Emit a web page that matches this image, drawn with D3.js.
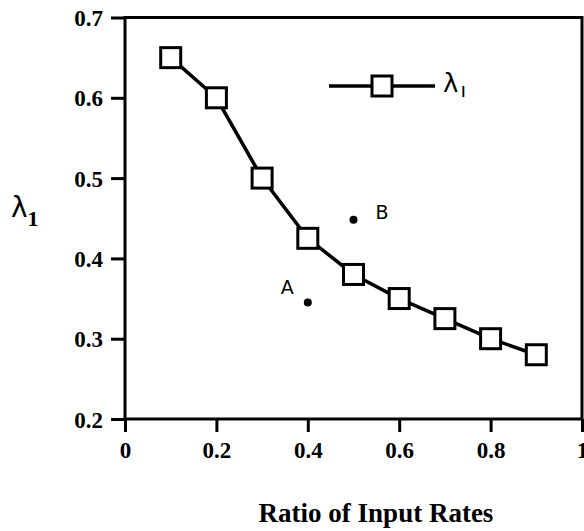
<!DOCTYPE html>
<html><head><meta charset="utf-8">
<script src="https://cdn.jsdelivr.net/npm/d3@7"></script>
<style>body{margin:0;background:#fff}svg{display:block}</style>
</head><body>
<svg id="c" width="584" height="531"></svg>
<script>
const ratios = [0.1,0.2,0.3,0.4,0.5,0.6,0.7,0.8,0.9];
const lambda1 = [0.65,0.60,0.50,0.425,0.38,0.35,0.325,0.30,0.28];
const extraLabels = ["A","B"];
const extraX = [0.40,0.50];
const extraY = [0.345,0.448];
const xTicks = [0,0.2,0.4,0.6,0.8,1];
const xTickLabels = ["0","0.2","0.4","0.6","0.8","1"];
const yTicks = [0.2,0.3,0.4,0.5,0.6,0.7];
const yTickLabels = ["0.2","0.3","0.4","0.5","0.6","0.7"];

const svg = d3.select("#c");
const x = d3.scaleLinear().domain([0,1]).range([125,582]);
const y = d3.scaleLinear().domain([0.2,0.7]).range([419,17.5]);
const font = "'Liberation Serif', 'Times New Roman', serif";

// frame
svg.append("rect").attr("x",x(0)).attr("y",y(0.7))
  .attr("width",x(1)-x(0)).attr("height",y(0.2)-y(0.7))
  .attr("fill","none").attr("stroke","#000").attr("stroke-width",3);

const xa = svg.append("g").attr("transform",`translate(0,${y(0.2)})`)
  .call(d3.axisBottom(x).tickValues(xTicks).tickSize(13).tickSizeOuter(0)
    .tickFormat((d,i)=>xTickLabels[i]));
xa.select(".domain").remove();
xa.selectAll("line").attr("stroke","#000").attr("stroke-width",3);
xa.selectAll("text").attr("font-family",font).attr("font-weight","bold")
  .attr("font-size",23).attr("fill","#000").attr("dy","1.0em");

const ya = svg.append("g").attr("transform",`translate(${x(0)},0)`)
  .call(d3.axisLeft(y).tickValues(yTicks).tickSize(14).tickSizeOuter(0)
    .tickFormat((d,i)=>yTickLabels[i]));
ya.select(".domain").remove();
ya.selectAll("line").attr("stroke","#000").attr("stroke-width",3);
ya.selectAll("text").attr("font-family",font).attr("font-weight","bold")
  .attr("font-size",23).attr("fill","#000").attr("x",-22).attr("dy","0.35em");

// line
const pts = ratios.map((r,i)=>[r,lambda1[i]]);
svg.append("path").datum(pts)
  .attr("d",d3.line().x(d=>x(d[0])).y(d=>y(d[1])))
  .attr("fill","none").attr("stroke","#000").attr("stroke-width",3.5);
const s = 20;
svg.selectAll("rect.m").data(pts).enter().append("rect").attr("class","m")
  .attr("x",d=>x(d[0])-s/2).attr("y",d=>y(d[1])-s/2)
  .attr("width",s).attr("height",s)
  .attr("fill","#fff").attr("stroke","#000").attr("stroke-width",3);

// extra points A,B
extraLabels.forEach((l,i)=>{
  svg.append("circle").attr("cx",x(extraX[i])).attr("cy",y(extraY[i])).attr("r",4).attr("fill","#000");
});
svg.append("text").attr("x",x(extraX[0])-27).attr("y",y(extraY[0])-9)
  .attr("font-family","'DejaVu Sans', sans-serif").attr("font-size",19).text(extraLabels[0]);
svg.append("text").attr("x",x(extraX[1])+22).attr("y",y(extraY[1])-1)
  .attr("font-family","'DejaVu Sans', sans-serif").attr("font-size",19).text(extraLabels[1]);

// legend
svg.append("line").attr("x1",329).attr("x2",435).attr("y1",86).attr("y2",86)
  .attr("stroke","#000").attr("stroke-width",3.5);
svg.append("rect").attr("x",382-s/2).attr("y",86-s/2).attr("width",s).attr("height",s)
  .attr("fill","#fff").attr("stroke","#000").attr("stroke-width",3);
const lt = svg.append("text").attr("x",443).attr("y",92)
  .attr("font-family","'DejaVu Sans', sans-serif").attr("font-size",26);
lt.append("tspan").text("λ");
lt.append("tspan").attr("font-size",20).attr("dy",5).attr("dx",2).text("ı");

// axis titles
const yt = svg.append("text").attr("x",11).attr("y",217)
  .attr("font-family","'DejaVu Sans', sans-serif").attr("font-size",28);
yt.append("tspan").text("λ");
yt.append("tspan").attr("font-family",font).attr("font-weight","bold").attr("font-size",22).attr("dy",9).text("1");

svg.append("text").attr("x",(257+495)/2).attr("y",522).attr("text-anchor","middle")
  .attr("font-family",font).attr("font-weight","bold").attr("font-size",27)
  .text("Ratio of Input Rates");
</script>
</body></html>
